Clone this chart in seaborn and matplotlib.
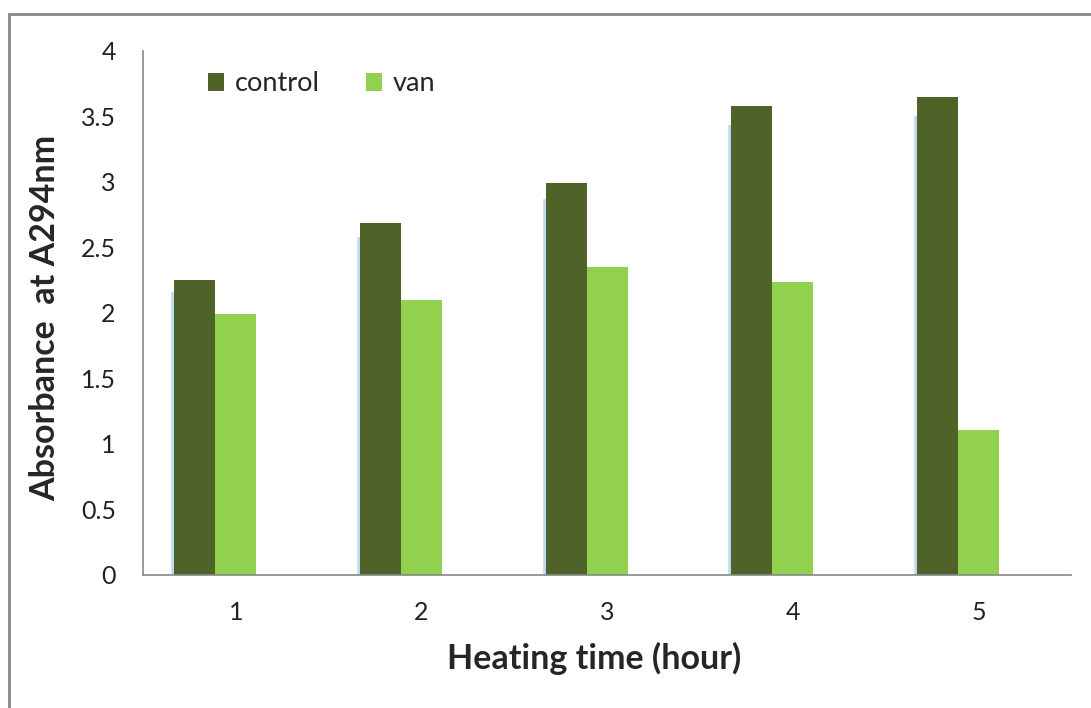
import pandas as pd
import matplotlib.pyplot as plt
import seaborn as sns
from matplotlib.patches import Rectangle

# Data
hours = ["1", "2", "3", "4", "5"]
control = [2.25, 2.69, 2.99, 3.58, 3.65]
van = [1.99, 2.10, 2.35, 2.24, 1.11]
# the source chart keeps room for an empty third series, which pushes the bars left
blank = [0, 0, 0, 0, 0]

df = pd.DataFrame({
    "hour": hours * 3,
    "value": control + van + blank,
    "group": ["control"] * 5 + ["van"] * 5 + ["blank"] * 5,
})

sns.set_style("white")
plt.rcParams['font.family'] = ['Lato', 'DejaVu Sans']

fig = plt.figure(figsize=(10.91, 7.08), dpi=100)
ax = fig.add_axes([0.131, 0.188, 0.851, 0.740])

sns.barplot(data=df, x="hour", y="value", hue="group", ax=ax,
            hue_order=["control", "van", "blank"],
            palette={"control": "#4F6228", "van": "#92D050", "blank": "white"},
            width=0.663, gap=0, saturation=1, linewidth=0, errorbar=None,
            legend=False)

# soft blue glow on the left of the control bars
for bar in ax.containers[0]:
    ax.plot([bar.get_x(), bar.get_x()], [0, bar.get_height() * 0.96],
            color="#7DB6EA", lw=4, alpha=0.5, zorder=bar.get_zorder() - 0.1,
            solid_capstyle="butt")

ax.set_ylim(0, 4)
ax.set_xlim(-0.5, 4.5)
ax.set_yticks([0, 0.5, 1, 1.5, 2, 2.5, 3, 3.5, 4])
ax.set_yticklabels(["0", "0.5", "1", "1.5", "2", "2.5", "3", "3.5", "4"])
ax.set_xticks(range(len(hours)))
ax.set_xticklabels(hours)
ax.set_xticks([i - 0.5 for i in range(len(hours) + 1)], minor=True)
ax.tick_params(axis="x", which="major", length=0, pad=19, labelsize=18, colors="#222222")
ax.tick_params(axis="x", which="minor", length=7.5, width=1, color="#888888", direction="out")
ax.tick_params(axis="y", length=7.5, width=1, color="#888888", direction="out",
               labelsize=18, labelcolor="#222222", pad=12)

for s in ["top", "right"]:
    ax.spines[s].set_visible(False)
for s in ["left", "bottom"]:
    ax.spines[s].set_color("#888888")
    ax.spines[s].set_linewidth(1.2)

ax.set_xlabel("Heating time (hour)", fontsize=24.5, fontweight="bold")
ax.set_ylabel("Absorbance  at A294nm", fontsize=24.5, fontweight="bold")
ax.xaxis.set_label_coords(0.486, -0.127)
ax.yaxis.set_label_coords(-0.088, 0.49)

handles = [ax.containers[0][0], ax.containers[1][0]]
ax.legend(handles, ["control", "van"], loc="center left",
          bbox_to_anchor=(0.070, 0.937), ncol=2, frameon=False,
          fontsize=19.5, handlelength=0.6, handleheight=0.6, columnspacing=1.7,
          handletextpad=0.4, borderaxespad=0, borderpad=0)

# outer chart border
fig.patches.append(Rectangle((9 / 1091, -0.1), 1.2, (708 - 14) / 708 + 0.1,
                             transform=fig.transFigure, fill=False,
                             edgecolor="#888888", linewidth=2))

fig.savefig("out.png", dpi=100)
